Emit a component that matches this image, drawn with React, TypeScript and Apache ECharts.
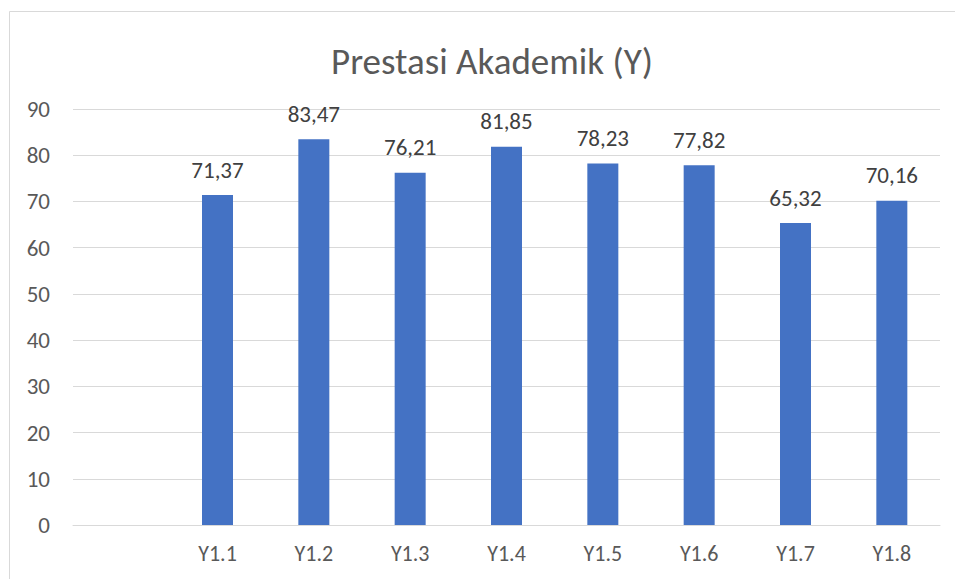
import React, { useEffect, useRef } from "react";
import * as echarts from "echarts";

const categories = ["", "Y1.1", "Y1.2", "Y1.3", "Y1.4", "Y1.5", "Y1.6", "Y1.7", "Y1.8"];
const values: (number | null)[] = [null, 71.37, 83.47, 76.21, 81.85, 78.23, 77.82, 65.32, 70.16];
const yTicks = { min: 0, max: 90, interval: 10 };
const title = "Prestasi Akademik (Y)";

const FONT = "Carlito, Calibri, Lato, 'Open Sans', sans-serif";

export default function App() {
  const ref = useRef<HTMLDivElement>(null);
  useEffect(() => {
    if (!ref.current) return;
    const chart = echarts.init(ref.current, null, { renderer: "svg" });
    chart.setOption({
      animation: false,
      backgroundColor: "#ffffff",
      title: {
        text: title,
        left: 487,
        textAlign: "center",
        top: 38,
        textStyle: { fontFamily: FONT, fontSize: 37, fontWeight: "normal", color: "#595959" },
      },
      graphic: [
        { type: "line", shape: { x1: 9.5, y1: 11.5, x2: 955, y2: 11.5 }, style: { stroke: "#d9d9d9", lineWidth: 1 } },
        { type: "line", shape: { x1: 9.5, y1: 11.5, x2: 9.5, y2: 579 }, style: { stroke: "#d9d9d9", lineWidth: 1 } },
      ],
      grid: { left: 73, right: 15, top: 109, bottom: 54, containLabel: false },
      xAxis: {
        type: "category",
        data: categories,
        axisLine: { show: true, lineStyle: { color: "#d9d9d9", width: 1 } },
        axisTick: { show: false },
        axisLabel: { color: "#595959", fontFamily: FONT, fontSize: 22, margin: 17 },
      },
      yAxis: {
        type: "value",
        min: yTicks.min,
        max: yTicks.max,
        interval: yTicks.interval,
        axisLine: { show: false },
        axisTick: { show: false },
        splitLine: { lineStyle: { color: "#d9d9d9", width: 1 } },
        axisLabel: { color: "#595959", fontFamily: FONT, fontSize: 23, margin: 23 },
      },
      series: [
        {
          type: "bar",
          data: values,
          barWidth: 31,
          itemStyle: { color: "#4472c4" },
          label: {
            show: true,
            position: "top",
            distance: 14,
            color: "#404040",
            fontFamily: FONT,
            fontSize: 23,
            formatter: (p: any) => (p.value == null ? "" : Number(p.value).toFixed(2).replace(".", ",")),
          },
        },
      ],
    });
    return () => chart.dispose();
  }, []);
  return (
    <div
      ref={ref}
      style={{ position: "fixed", left: 0, top: 0, width: 955, height: 579 }}
    />
  );
}
